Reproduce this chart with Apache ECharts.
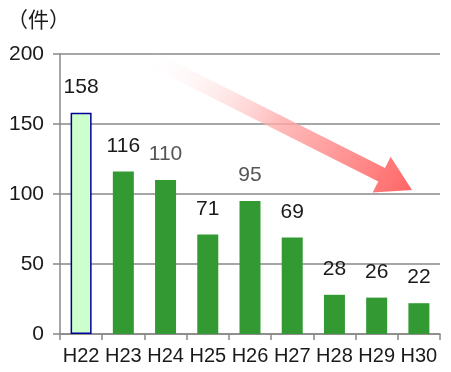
<!DOCTYPE html>
<html><head><meta charset="utf-8">
<script src="https://cdn.jsdelivr.net/npm/echarts@6/dist/echarts.min.js"></script>
<style>html,body{margin:0;padding:0;background:#fff}#c{width:451px;height:372px}</style>
</head><body><div id="c"></div>
<script>
const categories = ['H22','H23','H24','H25','H26','H27','H28','H29','H30'];
const values = [158,116,110,71,95,69,28,26,22];
const yTicks = {min:0, max:200, interval:50};
const unitLabel = '（件）';
const grayLabelIdx = [2,4];

const FONT = 'Liberation Sans, Arial, sans-serif';
const chart = echarts.init(document.getElementById('c'), null, {renderer:'canvas'});

// arrow geometry (decoration)
const S=[150,58], T=[412,190];
const dx=T[0]-S[0], dy=T[1]-S[1], L=Math.hypot(dx,dy);
const u=[dx/L,dy/L], n=[-u[1],u[0]];
const hl=34, hw=20, sw=7.5;
const B=[T[0]-hl*u[0], T[1]-hl*u[1]];
const P=(p,k)=>[p[0]+k*n[0], p[1]+k*n[1]];
const arrowPts=[P(S,-sw),P(B,-sw),P(B,-hw),T,P(B,hw),P(B,sw),P(S,sw)];

const data = values.map((v,i)=>{
  const d={value:v, label:{color: grayLabelIdx.includes(i)?'#555':'#1a1a1a'}};
  if(i===0) d.itemStyle={color:'#ccffcc', borderColor:'#000099', borderWidth:1.5};
  return d;
});

chart.setOption({
  animation:false,
  grid:{left:60, right:11, top:54, bottom:38, containLabel:false},
  xAxis:{type:'category', data:categories,
    axisLine:{lineStyle:{color:'#888', width:1.5}},
    axisTick:{show:true, length:6, lineStyle:{color:'#888', width:1.5}},
    axisLabel:{color:'#1a1a1a', fontSize:20, fontFamily:FONT, margin:12, interval:0, hideOverlap:false}},
  yAxis:{type:'value', min:yTicks.min, max:yTicks.max, interval:yTicks.interval,
    axisLine:{show:true, lineStyle:{color:'#888', width:1.5}},
    axisTick:{show:true, length:7, lineStyle:{color:'#888', width:1.5}},
    splitLine:{lineStyle:{color:'#888', width:1.5}},
    axisLabel:{color:'#1a1a1a', fontSize:21, fontFamily:FONT, margin:16}},
  series:[{type:'bar', data:data, barWidth:21,
    itemStyle:{color:'#339933'},
    label:{show:true, position:'top', distance:15, fontSize:21, fontFamily:FONT}}],
  graphic:[
    {type:'text', left:7, top:9, style:{text:unitLabel, fontSize:21, fontFamily:'Noto Sans CJK JP, sans-serif', fill:'#1a1a1a'}},
    {type:'polygon', z:100, shape:{points:arrowPts},
     style:{fill:new echarts.graphic.LinearGradient(0,0,1,1,[
       {offset:0,color:'rgba(255,255,255,0)'},{offset:0.5,color:'rgba(255,170,170,0.8)'},{offset:1,color:'rgba(255,100,100,1)'}])}}
  ]
});
</script></body></html>
